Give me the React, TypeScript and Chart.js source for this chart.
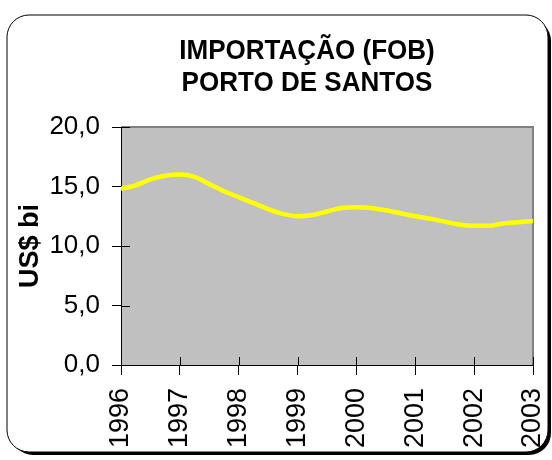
import React, { useEffect, useRef } from "react";
import { Chart, registerables } from "chart.js";

Chart.register(...registerables);

const titleLines = ["IMPORTAÇÃO (FOB)", "PORTO DE SANTOS"];
const yAxisTitle = "US$ bi";
const sampleTimes = [
  1996.0, 1996.25, 1996.5, 1996.75, 1997.0, 1997.25, 1997.5, 1997.75,
  1998.0, 1998.25, 1998.5, 1998.75, 1999.0, 1999.25, 1999.5, 1999.75,
  2000.0, 2000.25, 2000.5, 2000.75, 2001.0, 2001.25, 2001.5, 2001.75,
  2002.0, 2002.25, 2002.5, 2002.75, 2003.0,
];
const importValues = [
  14.8, 15.1, 15.6, 15.9, 16.0, 15.8, 15.2, 14.6,
  14.1, 13.6, 13.1, 12.7, 12.5, 12.6, 12.9, 13.2,
  13.25, 13.2, 13.0, 12.75, 12.5, 12.3, 12.05, 11.8,
  11.7, 11.7, 11.9, 12.0, 12.1,
];
const yearMin = 1996;
const yearMax = 2003;
const yMin = 0;
const yMax = 20;
const yStep = 5;

const FONT = '"Liberation Sans", Arial, sans-serif';

const framePlugin = {
  id: "framePlugin",
  beforeDraw(chart: any) {
    const ctx = chart.ctx;
    const { left, top, right, bottom } = chart.chartArea;
    ctx.save();
    // shadow
    ctx.fillStyle = "#000";
    ctx.beginPath();
    ctx.roundRect(11, 19, 540, 436, 22);
    ctx.fill();
    // frame
    ctx.fillStyle = "#fff";
    ctx.beginPath();
    ctx.roundRect(7, 15, 541, 437, 22);
    ctx.fill();
    ctx.strokeStyle = "#000";
    ctx.lineWidth = 1;
    ctx.stroke();
    // plot bg
    ctx.fillStyle = "#C0C0C0";
    ctx.fillRect(left, top, right - left, bottom - top);
    ctx.strokeStyle = "#808080";
    ctx.lineWidth = 2;
    ctx.beginPath();
    ctx.moveTo(left, top);
    ctx.lineTo(right, top);
    ctx.lineTo(right, bottom);
    ctx.stroke();
    // title
    ctx.fillStyle = "#000";
    ctx.font = `bold 28px ${FONT}`;
    ctx.textAlign = "center";
    ctx.textBaseline = "alphabetic";
    const cx = 307;
    const baselines = [59, 91];
    titleLines.forEach((t, i) => {
      ctx.save();
      ctx.translate(cx, baselines[i]);
      ctx.scale(0.93, 1);
      ctx.fillText(t, 0, 0);
      ctx.restore();
    });
    ctx.restore();
  },
  beforeDatasetsDraw(chart: any) {
    const ctx = chart.ctx;
    const xs = chart.scales.x;
    const ys = chart.scales.y;
    const { left, bottom } = chart.chartArea;
    ctx.save();
    ctx.strokeStyle = "#000";
    ctx.lineWidth = 1;
    ctx.beginPath();
    ys.ticks.forEach((t: any) => {
      const y = Math.round(ys.getPixelForValue(t.value)) + 0.5;
      ctx.moveTo(left, y);
      ctx.lineTo(left + 9, y);
    });
    xs.ticks.forEach((t: any) => {
      const x = Math.round(xs.getPixelForValue(t.value)) + 0.5;
      ctx.moveTo(x, bottom);
      ctx.lineTo(x, bottom - 8);
    });
    ctx.stroke();
    ctx.restore();
  },
};

export default function App() {
  const ref = useRef<HTMLCanvasElement>(null);
  useEffect(() => {
    if (!ref.current) return;
    const data = sampleTimes.map((x, i) => ({ x, y: importValues[i] }));
    const chart = new Chart(ref.current, {
      type: "line",
      data: {
        datasets: [
          {
            data,
            borderColor: "#FFFF00",
            borderWidth: 4.5,
            pointRadius: 0,
            tension: 0.4,
            cubicInterpolationMode: "monotone",
            fill: false,
          },
        ],
      },
      options: {
        responsive: false,
        animation: false,
        layout: { padding: { top: 127, right: 19, left: 0, bottom: 0 } },
        plugins: {
          legend: { display: false },
          tooltip: { enabled: false },
          title: { display: false },
        },
        scales: {
          x: {
            type: "linear",
            min: yearMin,
            max: yearMax,
            afterFit(scale: any) {
              scale.height = 95;
              scale.paddingLeft = 0;
              scale.paddingRight = 0;
            },
            border: { display: true, color: "#000", width: 1 },
            grid: {
              display: true,
              drawOnChartArea: false,
              drawTicks: true,
              tickLength: 10,
              color: "#000",
            },
            ticks: {
              stepSize: 1,
              autoSkip: false,
              minRotation: 90,
              maxRotation: 90,
              padding: 13,
              color: "#000",
              font: { family: FONT, size: 27 },
              callback: (v: any) => String(v),
            },
          },
          y: {
            type: "linear",
            min: yMin,
            max: yMax,
            afterFit(scale: any) {
              scale.width = 121;
              scale.paddingTop = 0;
              scale.paddingBottom = 0;
            },
            border: { display: true, color: "#000", width: 1 },
            grid: {
              display: true,
              drawOnChartArea: false,
              drawTicks: true,
              tickLength: 9,
              color: "#000",
            },
            title: {
              display: true,
              text: yAxisTitle,
              color: "#000",
              font: { family: FONT, size: 27, weight: "bold" },
              padding: { top: 14, bottom: 0 },
            },
            ticks: {
              stepSize: yStep,
              padding: 12,
              color: "#000",
              font: { family: FONT, size: 26 },
              callback: (v: any) => Number(v).toFixed(1).replace(".", ","),
            },
          },
        },
      },
      plugins: [framePlugin],
    });
    return () => chart.destroy();
  }, []);
  return (
    <div style={{ position: "absolute", left: 0, top: 0, width: 552, height: 460 }}>
      <canvas ref={ref} width={552} height={460} />
    </div>
  );
}
